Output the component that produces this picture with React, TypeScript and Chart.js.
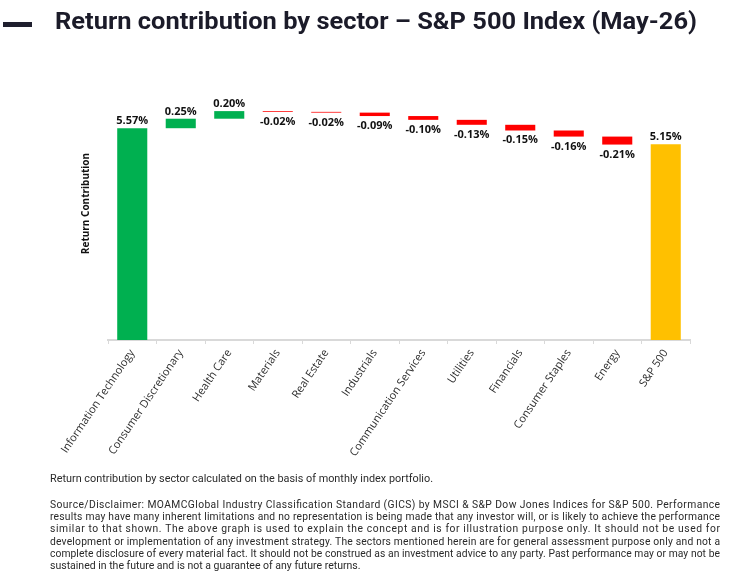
import React, { useEffect, useRef } from "react";
import { Chart, registerables } from "chart.js";

Chart.register(...registerables);

const categories = [
  "Information Technology",
  "Consumer Discretionary",
  "Health Care",
  "Materials",
  "Real Estate",
  "Industrials",
  "Communication Services",
  "Utilities",
  "Financials",
  "Consumer Staples",
  "Energy",
  "S&P 500",
];
const sectorContributions = [5.57, 0.25, 0.2, -0.02, -0.02, -0.09, -0.1, -0.13, -0.15, -0.16, -0.21];
const indexTotal = 5.15;

const titleText = "Return contribution by sector – S&P 500 Index (May-26)";
const yAxisTitle = "Return Contribution";
const footnote = "Return contribution by sector calculated on the basis of monthly index portfolio.";
const disclaimerLines = [
  "Source/Disclaimer: MOAMCGlobal Industry Classification Standard (GICS) by MSCI & S&P Dow Jones Indices for S&P 500. Performance",
  "results may have many inherent limitations and no representation is being made that any investor will, or is likely to achieve the performance",
  "similar to that shown. The above graph is used to explain the concept and is for illustration purpose only. It should not be used for",
  "development or implementation of any investment strategy. The sectors mentioned herein are for general assessment purpose only and not a",
  "complete disclosure of every material fact. It should not be construed as an investment advice to any party. Past performance may or may not be",
  "sustained in the future and is not a guarantee of any future returns.",
];

const GREEN = "#00B050";
const RED = "#FF0000";
const GOLD = "#FFC000";

export default function App() {
  const canvasRef = useRef<HTMLCanvasElement | null>(null);

  useEffect(() => {
    if (!canvasRef.current) return;
    let run = 0;
    const floating: [number, number][] = sectorContributions.map((v) => {
      const s = run;
      run += v;
      return [s, run];
    });
    floating.push([0, indexTotal]);
    const labelValues = [...sectorContributions, indexTotal];
    const colors = labelValues.map((v, i) =>
      i === labelValues.length - 1 ? GOLD : v >= 0 ? GREEN : RED
    );

    const dataLabels = {
      id: "dataLabels",
      afterDatasetsDraw(chart: any) {
        const ctx = chart.ctx;
        const meta = chart.getDatasetMeta(0);
        ctx.save();
        ctx.font = 'bold 11px "Open Sans"';
        ctx.fillStyle = "#111111";
        ctx.textAlign = "center";
        ctx.textBaseline = "alphabetic";
        meta.data.forEach((el: any, i: number) => {
          const p = el.getProps(["x", "y", "base"], true);
          const top = Math.min(p.y, p.base);
          const bottom = Math.max(p.y, p.base);
          const v = labelValues[i];
          const txt = v.toFixed(2) + "%";
          if (v >= 0) ctx.fillText(txt, p.x, top - 4);
          else ctx.fillText(txt, p.x, bottom + 13);
        });
        ctx.restore();
      },
    };

    const chart = new Chart(canvasRef.current, {
      type: "bar",
      data: {
        labels: categories,
        datasets: [
          {
            data: floating as any,
            backgroundColor: colors,
            borderWidth: 0,
            barPercentage: 0.62,
            categoryPercentage: 1,
          },
        ],
      },
      options: {
        responsive: false,
        animation: false,
        layout: { padding: { left: 108, right: 60, top: 67, bottom: 93 } },
        plugins: {
          legend: { display: false },
          tooltip: { enabled: false },
          title: { display: false },
        },
        scales: {
          x: {
            afterFit: (scale: any) => {
              scale.height = 150;
            },
            grid: {
              display: true,
              drawOnChartArea: false,
              drawTicks: true,
              tickLength: 4,
              color: "#d9d9d9",
              offset: true,
            },
            border: { display: true, color: "#d9d9d9", width: 2 },
            ticks: {
              autoSkip: false,
              minRotation: 56,
              maxRotation: 56,
              padding: 3,
              color: "#2e2e2e",
              font: { family: '"Open Sans"', size: 11 },
            },
          },
          y: {
            display: false,
            min: 0,
            max: 7.18,
          },
        },
      },
      plugins: [dataLabels],
    });
    return () => chart.destroy();
  }, []);

  return (
    <div
      style={{
        position: "fixed",
        left: 0,
        top: 0,
        width: 750,
        height: 583,
        background: "#ffffff",
        overflow: "hidden",
      }}
    >
      <canvas
        ref={canvasRef}
        width={750}
        height={583}
        style={{ position: "absolute", left: 0, top: 0, width: 750, height: 583, display: "block" }}
      />
      <svg
        width={750}
        height={583}
        style={{ position: "absolute", left: 0, top: 0, pointerEvents: "none" }}
      >
        <rect x={3} y={22} width={29} height={5} fill="#1f1f2e" />
        <text
          x={55}
          y={29}
          fontFamily="Roboto"
          fontWeight={700}
          fontSize={23}
          fill="#1b1b29"
          textLength={642}
          lengthAdjust="spacingAndGlyphs"
        >
          {titleText}
        </text>
        <g transform="translate(89,203.5) rotate(-90)">
          <text
            x={0}
            y={0}
            textAnchor="middle"
            fontFamily="Open Sans"
            fontWeight={700}
            fontSize={10}
            fill="#111111"
          >
            {yAxisTitle}
          </text>
        </g>
        <text
          x={50}
          y={482}
          fontFamily="Roboto"
          fontSize={10.5}
          fill="#2a2a2a"
          textLength={383}
          lengthAdjust="spacingAndGlyphs"
        >
          {footnote}
        </text>
        {disclaimerLines.map((line, i) =>
          i < disclaimerLines.length - 1 ? (
            <text
              key={i}
              x={50}
              y={508 + i * 12.2}
              fontFamily="Roboto"
              fontSize={10.3}
              fill="#2a2a2a"
              textLength={670}
              lengthAdjust="spacing"
            >
              {line}
            </text>
          ) : (
            <text key={i} x={50} y={508 + i * 12.2} fontFamily="Roboto" fontSize={10.5} fill="#2a2a2a">
              {line}
            </text>
          )
        )}
      </svg>
    </div>
  );
}
